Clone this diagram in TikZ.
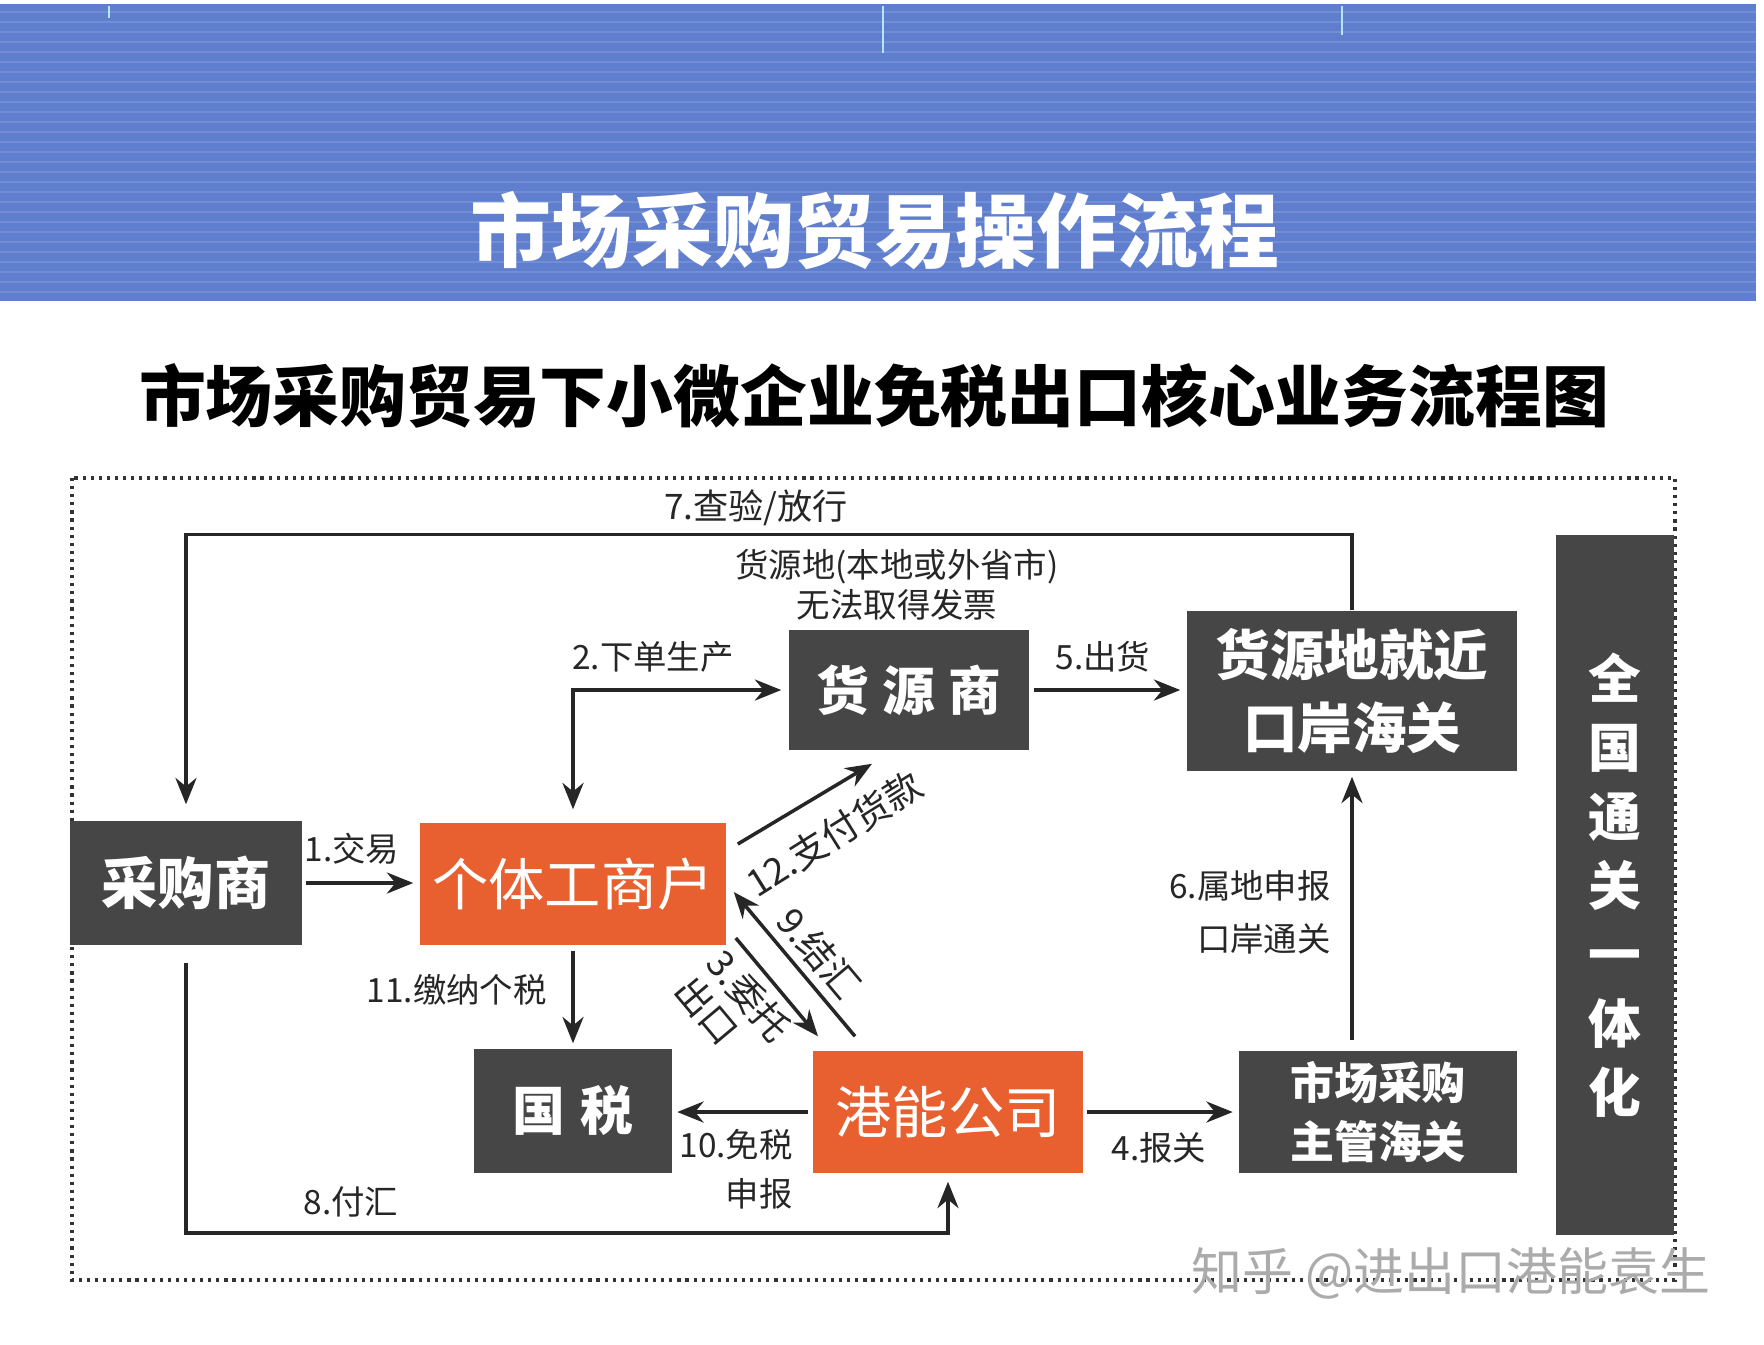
\documentclass[tikz,border=0pt]{standalone}
\usepackage{fontspec}
\setmainfont{Noto Sans CJK SC}
\usetikzlibrary{arrows.meta,calc}

\begin{document}
\begin{tikzpicture}[x=0.01cm,y=-0.01cm,
        caja/.style={fill=gris,text=white,inner sep=0pt,align=center,font=\fontsize{16}{21}\bfseries},
        cajanar/.style={caja,fill=naranja,font=\fontsize{16}{21}\selectfont},
        flecha/.style={-{Stealth[length=7.5pt,width=6pt]},line width=1pt,black!85},
        etiq/.style={inner sep=1pt,font=\fontsize{9.5}{13}\selectfont,black!85},
        marco/.style={line width=0.9pt,dash pattern=on 0.9pt off 1.4pt,black!80}]
        %colores
        \definecolor{gris}{RGB}{70,70,70}
        \definecolor{naranja}{RGB}{233,96,48}
        \definecolor{azul}{RGB}{96,126,206}
        \colorlet{azulclaro}{azul!88!white}

        \useasboundingbox (0,0) rectangle (1764,1344);
        \fill[white] (0,0) rectangle (1764,1344);

        %banda superior
        \fill[azul] (0,4) rectangle (1756,301);
        \foreach \y in {12,22,...,296}
        \draw[azulclaro,line width=0.4pt] (0,\y) -- (1756,\y);
        \foreach \x/\ylen in {109/18, 883/53, 1342/35}
        \draw[cyan!30!white,line width=0.8pt] (\x,6) -- (\x,\ylen);
        \node[text=white,font=\fontsize{23}{28}\bfseries] (tit) at (875,231) {市场采购贸易操作流程};

        %subtitulo
        \node[font=\fontsize{19}{24}\bfseries] (subtit) at (874,396) {市场采购贸易下小微企业免税出口核心业务流程图};

        %marco punteado
        \draw[marco] (72,478) rectangle (1675,1280);

        %cajas
        \node[caja,minimum width=2.31cm,minimum height=1.24cm] (cgs) at (186,883) {采购商};
        \node[cajanar,minimum width=3.06cm,minimum height=1.22cm] (gtgsh) at (573,884) {个体工商户};
        \node[caja,minimum width=2.40cm,minimum height=1.20cm,font=\fontsize{15}{20}\bfseries] (hys) at (909,690) {货\hspace{0.25em}源\hspace{0.25em}商};
        \node[caja,minimum width=3.30cm,minimum height=1.60cm,font=\fontsize{15.5}{21}\bfseries] (hag) at (1352,691) {货源地就近\\口岸海关};
        \node[caja,minimum width=1.97cm,minimum height=1.24cm,font=\fontsize{15}{20}\bfseries] (gs) at (573,1111) {国\hspace{0.3em}税};
        \node[cajanar,minimum width=2.69cm,minimum height=1.22cm] (gn) at (948,1112) {港能公司};
        \node[caja,minimum width=2.77cm,minimum height=1.22cm,font=\fontsize{12.5}{17}\bfseries] (zghg) at (1378,1112) {市场采购\\主管海关};
        \node[caja,minimum width=1.18cm,minimum height=7.00cm,font=\fontsize{15}{19.6}\bfseries] (qg) at (1615,885) {全\\国\\通\\关\\一\\体\\化};

        %flechas
        \draw[flecha,shorten <=0.4mm,shorten >=0.6mm] (cgs.east) -- (cgs.east -| gtgsh.west);
        \draw[flecha,{Stealth[length=7.5pt,width=6pt]}-{Stealth[length=7.5pt,width=6pt]},shorten <=0.7mm,shorten >=1.3mm] (hys.west) -| (gtgsh.north);
        \draw[flecha,shorten <=0.4mm,shorten >=0.6mm] (hys.east) -- (hys.east -| hag.west);
        \draw[flecha,shorten >=1.6mm] (hag.north) -- ++(0,-76) -| (cgs.north);
        \draw[flecha,shorten <=1mm,shorten >=0.5mm] (hag.south |- zghg.north) -- (hag.south);
        \draw[flecha,shorten <=0.4mm,shorten >=0.6mm] (gn.east) -- (gn.east -| zghg.west);
        \draw[flecha,shorten <=0.5mm,shorten >=0.5mm] (gn.west) -- (gn.west -| gs.east);
        \draw[flecha,shorten <=0.5mm,shorten >=0.5mm] (gtgsh.south) -- (gs.north);
        \draw[flecha,shorten <=1.7mm,shorten >=0.8mm] (cgs.south) -- ++(0,287) -| (gn.south);
        \draw[flecha] ($(gtgsh.east)+(11,-40)$) -- ($(hys.south)+(-37,13)$);
        \draw[flecha] ($(gn.north)+(-93,-14)$) -- ($(gtgsh.east)+(7,8)$);
        \draw[flecha] ($(gtgsh.east)+(9,54)$) -- ($(gn.north)+(-130,-14)$);

        %etiquetas
        \node[etiq] (e1) at (352,849) {1.交易};
        \node[etiq] (e2) at (653,657) {2.下单生产};
        \node[etiq] (e5) at (1103,657) {5.出货};
        \node[etiq,font=\fontsize{10}{13}\selectfont] (e7) at (756,508) {7.查验/放行};
        \node[etiq,align=center,font=\fontsize{9.5}{11.4}\selectfont] (nota) at (897,585) {货源地(本地或外省市)\\无法取得发票};
        \node[etiq,align=right,anchor=east] (e6) at (1335,912) {6.属地申报\\[2pt]口岸通关};
        \node[etiq] (e4) at (1159,1148) {4.报关};
        \node[etiq,align=right,anchor=east] (e10) at (797,1169) {10.免税\\[1pt]申报};
        \node[etiq,anchor=east] (e11) at (551,990) {11.缴纳个税};
        \node[etiq] (e8) at (351,1202) {8.付汇};
        \node[etiq,inner sep=0pt,rotate=32,font=\fontsize{10.5}{13}\selectfont] (e12) at (834,834) {12.支付货款};
        \node[etiq,inner sep=0pt,rotate=-50,font=\fontsize{10.5}{13}\selectfont] (e9) at (819,953) {9.结汇};
        \node[etiq,inner sep=0pt,rotate=-50,align=left,font=\fontsize{10.5}{12}\selectfont] (e3) at (733,1009) {3.委托\\出口};

        %marca de agua
        \node[text=black!33,font=\fontsize{14.5}{18}\selectfont] (marca) at (1451,1273) {知乎 @进出口港能袁生};
    \end{tikzpicture}
\end{document}
